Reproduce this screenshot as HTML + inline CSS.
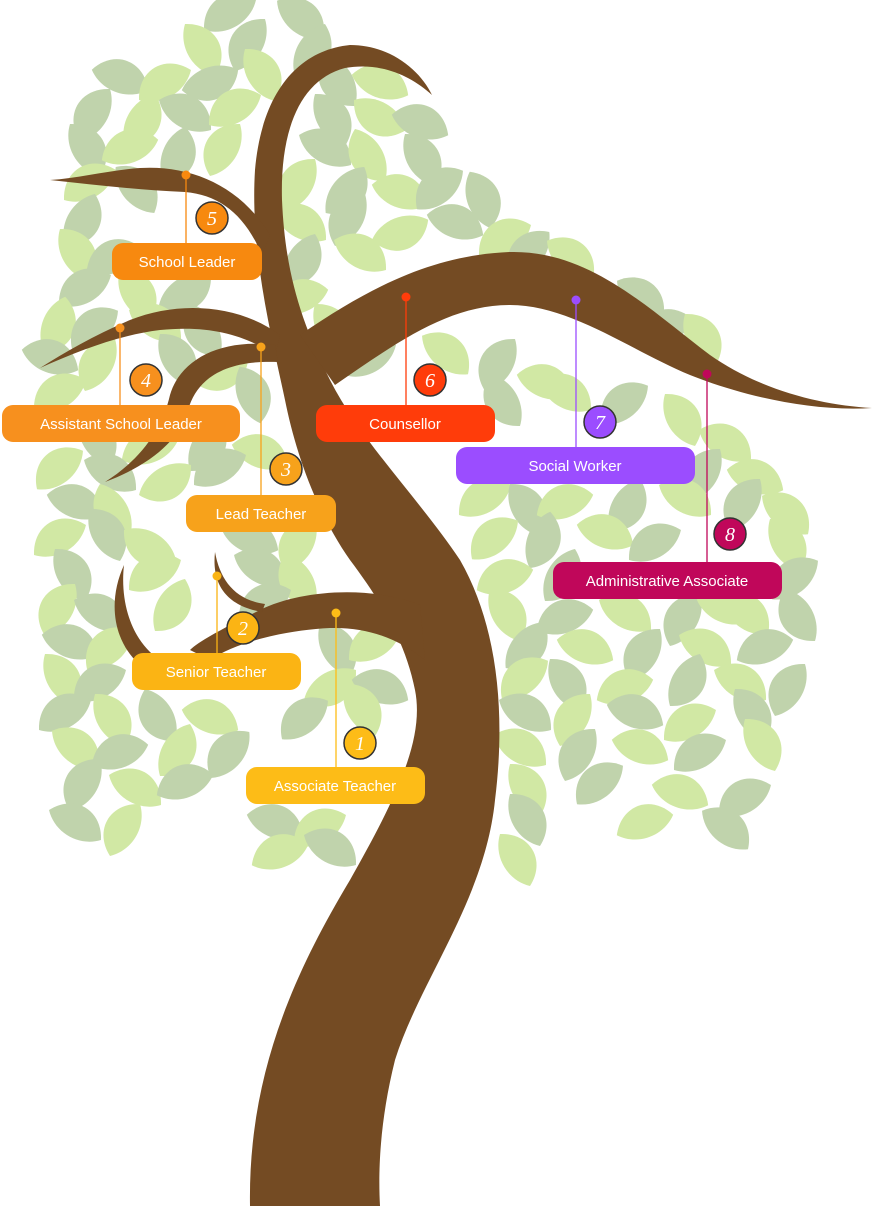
<!DOCTYPE html>
<html><head><meta charset="utf-8"><style>
html,body{margin:0;padding:0;background:#fff}
svg{display:block}
.a{fill:#cfe7a0}.b{fill:#bdd1a8}
.lbl{font-family:"Liberation Sans",sans-serif;font-size:15px;fill:#fff;text-anchor:middle}
.num{font-family:"Liberation Serif",serif;font-style:italic;font-size:20px;fill:#fff;text-anchor:middle}
</style></head><body>
<svg width="872" height="1206" viewBox="0 0 872 1206" xmlns="http://www.w3.org/2000/svg">
<defs><path id="L" d="M-30,0 C-16,-27 16,-27 30,0 C14,17 -14,17 -30,0Z"/></defs>
<g opacity="0.95">
<use href="#L" class="b" transform="translate(230 15) rotate(-30)"/><use href="#L" class="b" transform="translate(300 20) rotate(40)"/>
<use href="#L" class="a" transform="translate(200 50) rotate(60)"/><use href="#L" class="b" transform="translate(250 45) rotate(-60)"/><use href="#L" class="b" transform="translate(310 50) rotate(120)"/>
<use href="#L" class="b" transform="translate(120 80) rotate(20)"/><use href="#L" class="a" transform="translate(165 85) rotate(-30)"/><use href="#L" class="b" transform="translate(210 80) rotate(160)"/><use href="#L" class="a" transform="translate(260 75) rotate(60)"/><use href="#L" class="b" transform="translate(340 80) rotate(-120)"/><use href="#L" class="a" transform="translate(380 85) rotate(20)"/>
<use href="#L" class="b" transform="translate(95 115) rotate(-60)"/><use href="#L" class="a" transform="translate(140 120) rotate(120)"/><use href="#L" class="b" transform="translate(185 115) rotate(30)"/><use href="#L" class="a" transform="translate(235 110) rotate(-30)"/><use href="#L" class="b" transform="translate(330 120) rotate(60)"/><use href="#L" class="a" transform="translate(380 115) rotate(-150)"/><use href="#L" class="b" transform="translate(420 125) rotate(20)"/>
<use href="#L" class="b" transform="translate(85 150) rotate(60)"/><use href="#L" class="a" transform="translate(130 150) rotate(-20)"/><use href="#L" class="b" transform="translate(175 155) rotate(110)"/><use href="#L" class="a" transform="translate(225 150) rotate(-60)"/><use href="#L" class="b" transform="translate(325 150) rotate(30)"/><use href="#L" class="a" transform="translate(370 155) rotate(-120)"/><use href="#L" class="b" transform="translate(420 160) rotate(60)"/>
<use href="#L" class="a" transform="translate(90 185) rotate(-30)"/><use href="#L" class="b" transform="translate(135 190) rotate(50)"/><use href="#L" class="a" transform="translate(300 185) rotate(-60)"/><use href="#L" class="b" transform="translate(345 190) rotate(130)"/><use href="#L" class="a" transform="translate(400 195) rotate(20)"/><use href="#L" class="b" transform="translate(440 190) rotate(-40)"/><use href="#L" class="b" transform="translate(480 200) rotate(70)"/>
<use href="#L" class="b" transform="translate(80 220) rotate(120)"/><use href="#L" class="a" transform="translate(300 225) rotate(30)"/><use href="#L" class="b" transform="translate(350 220) rotate(-60)"/><use href="#L" class="a" transform="translate(400 230) rotate(160)"/><use href="#L" class="b" transform="translate(455 225) rotate(20)"/><use href="#L" class="a" transform="translate(505 240) rotate(-30)"/>
<use href="#L" class="a" transform="translate(75 255) rotate(60)"/><use href="#L" class="b" transform="translate(115 260) rotate(-20)"/><use href="#L" class="b" transform="translate(300 260) rotate(120)"/><use href="#L" class="a" transform="translate(360 255) rotate(30)"/><use href="#L" class="b" transform="translate(530 255) rotate(-50)"/><use href="#L" class="a" transform="translate(570 260) rotate(40)"/>
<use href="#L" class="b" transform="translate(85 290) rotate(-30)"/><use href="#L" class="a" transform="translate(135 295) rotate(60)"/><use href="#L" class="b" transform="translate(185 290) rotate(150)"/><use href="#L" class="a" transform="translate(300 300) rotate(-20)"/><use href="#L" class="b" transform="translate(640 300) rotate(40)"/>
<use href="#L" class="a" transform="translate(55 325) rotate(110)"/><use href="#L" class="b" transform="translate(95 330) rotate(-40)"/><use href="#L" class="a" transform="translate(155 325) rotate(30)"/><use href="#L" class="b" transform="translate(205 330) rotate(-120)"/><use href="#L" class="a" transform="translate(330 330) rotate(60)"/><use href="#L" class="b" transform="translate(665 330) rotate(-20)"/><use href="#L" class="a" transform="translate(700 340) rotate(60)"/>
<use href="#L" class="b" transform="translate(50 360) rotate(20)"/><use href="#L" class="a" transform="translate(100 365) rotate(-60)"/><use href="#L" class="b" transform="translate(175 360) rotate(60)"/><use href="#L" class="a" transform="translate(220 370) rotate(160)"/><use href="#L" class="b" transform="translate(370 360) rotate(-30)"/><use href="#L" class="a" transform="translate(445 355) rotate(40)"/><use href="#L" class="b" transform="translate(500 365) rotate(-60)"/><use href="#L" class="a" transform="translate(545 385) rotate(20)"/>
<use href="#L" class="a" transform="translate(60 395) rotate(-30)"/><use href="#L" class="b" transform="translate(250 395) rotate(70)"/><use href="#L" class="b" transform="translate(505 400) rotate(-120)"/><use href="#L" class="a" transform="translate(565 395) rotate(30)"/><use href="#L" class="b" transform="translate(625 405) rotate(-40)"/><use href="#L" class="a" transform="translate(680 420) rotate(60)"/>
<use href="#L" class="b" transform="translate(95 440) rotate(60)"/><use href="#L" class="a" transform="translate(150 450) rotate(-20)"/><use href="#L" class="b" transform="translate(205 445) rotate(120)"/><use href="#L" class="a" transform="translate(260 455) rotate(20)"/><use href="#L" class="b" transform="translate(330 455) rotate(-60)"/><use href="#L" class="a" transform="translate(725 445) rotate(30)"/>
<use href="#L" class="a" transform="translate(60 470) rotate(-40)"/><use href="#L" class="b" transform="translate(110 475) rotate(30)"/><use href="#L" class="a" transform="translate(165 480) rotate(150)"/><use href="#L" class="b" transform="translate(220 470) rotate(-30)"/><use href="#L" class="a" transform="translate(345 480) rotate(60)"/><use href="#L" class="b" transform="translate(705 475) rotate(-60)"/><use href="#L" class="a" transform="translate(755 480) rotate(20)"/>
<use href="#L" class="b" transform="translate(75 505) rotate(20)"/><use href="#L" class="a" transform="translate(115 510) rotate(-120)"/><use href="#L" class="b" transform="translate(355 505) rotate(40)"/><use href="#L" class="a" transform="translate(485 500) rotate(-30)"/><use href="#L" class="b" transform="translate(525 510) rotate(60)"/><use href="#L" class="a" transform="translate(565 505) rotate(-20)"/><use href="#L" class="b" transform="translate(625 505) rotate(120)"/><use href="#L" class="a" transform="translate(685 500) rotate(30)"/><use href="#L" class="b" transform="translate(745 505) rotate(-60)"/><use href="#L" class="a" transform="translate(785 515) rotate(40)"/>
<use href="#L" class="a" transform="translate(60 540) rotate(-30)"/><use href="#L" class="b" transform="translate(105 535) rotate(60)"/><use href="#L" class="a" transform="translate(150 545) rotate(-150)"/><use href="#L" class="b" transform="translate(250 540) rotate(20)"/><use href="#L" class="a" transform="translate(300 545) rotate(-60)"/><use href="#L" class="b" transform="translate(360 535) rotate(30)"/><use href="#L" class="a" transform="translate(495 540) rotate(-40)"/><use href="#L" class="b" transform="translate(540 540) rotate(110)"/><use href="#L" class="a" transform="translate(605 535) rotate(20)"/><use href="#L" class="b" transform="translate(655 545) rotate(-30)"/><use href="#L" class="a" transform="translate(785 545) rotate(60)"/>
<use href="#L" class="b" transform="translate(70 575) rotate(60)"/><use href="#L" class="a" transform="translate(155 575) rotate(-30)"/><use href="#L" class="b" transform="translate(260 570) rotate(30)"/><use href="#L" class="a" transform="translate(300 580) rotate(-120)"/><use href="#L" class="b" transform="translate(385 575) rotate(40)"/><use href="#L" class="a" transform="translate(505 580) rotate(-20)"/><use href="#L" class="b" transform="translate(560 575) rotate(120)"/><use href="#L" class="a" transform="translate(625 615) rotate(30)"/><use href="#L" class="b" transform="translate(685 620) rotate(-60)"/><use href="#L" class="a" transform="translate(725 610) rotate(20)"/><use href="#L" class="b" transform="translate(795 580) rotate(-40)"/>
<use href="#L" class="a" transform="translate(60 610) rotate(-60)"/><use href="#L" class="b" transform="translate(100 615) rotate(30)"/><use href="#L" class="a" transform="translate(170 605) rotate(120)"/><use href="#L" class="b" transform="translate(265 605) rotate(-30)"/><use href="#L" class="a" transform="translate(505 615) rotate(60)"/><use href="#L" class="b" transform="translate(565 620) rotate(-20)"/><use href="#L" class="a" transform="translate(745 615) rotate(40)"/><use href="#L" class="b" transform="translate(800 615) rotate(-120)"/>
<use href="#L" class="b" transform="translate(70 645) rotate(20)"/><use href="#L" class="a" transform="translate(110 650) rotate(-40)"/><use href="#L" class="b" transform="translate(335 650) rotate(60)"/><use href="#L" class="a" transform="translate(375 645) rotate(-30)"/><use href="#L" class="b" transform="translate(525 645) rotate(130)"/><use href="#L" class="a" transform="translate(585 650) rotate(20)"/><use href="#L" class="b" transform="translate(645 655) rotate(-60)"/><use href="#L" class="a" transform="translate(705 650) rotate(30)"/><use href="#L" class="b" transform="translate(765 650) rotate(-20)"/>
<use href="#L" class="a" transform="translate(60 680) rotate(60)"/><use href="#L" class="b" transform="translate(100 685) rotate(-30)"/><use href="#L" class="a" transform="translate(330 685) rotate(150)"/><use href="#L" class="b" transform="translate(380 690) rotate(20)"/><use href="#L" class="a" transform="translate(525 680) rotate(-40)"/><use href="#L" class="b" transform="translate(565 685) rotate(60)"/><use href="#L" class="a" transform="translate(625 690) rotate(-20)"/><use href="#L" class="b" transform="translate(685 680) rotate(120)"/><use href="#L" class="a" transform="translate(740 685) rotate(30)"/><use href="#L" class="b" transform="translate(790 690) rotate(-60)"/>
<use href="#L" class="b" transform="translate(65 715) rotate(-30)"/><use href="#L" class="a" transform="translate(110 720) rotate(60)"/><use href="#L" class="b" transform="translate(160 715) rotate(-120)"/><use href="#L" class="a" transform="translate(210 720) rotate(20)"/><use href="#L" class="b" transform="translate(305 720) rotate(-40)"/><use href="#L" class="a" transform="translate(360 710) rotate(60)"/><use href="#L" class="b" transform="translate(525 715) rotate(30)"/><use href="#L" class="a" transform="translate(575 720) rotate(-60)"/><use href="#L" class="b" transform="translate(635 715) rotate(20)"/><use href="#L" class="a" transform="translate(690 725) rotate(-30)"/><use href="#L" class="b" transform="translate(750 715) rotate(60)"/>
<use href="#L" class="a" transform="translate(75 750) rotate(40)"/><use href="#L" class="b" transform="translate(120 755) rotate(-20)"/><use href="#L" class="a" transform="translate(175 750) rotate(120)"/><use href="#L" class="b" transform="translate(230 755) rotate(-50)"/><use href="#L" class="a" transform="translate(520 750) rotate(30)"/><use href="#L" class="b" transform="translate(580 755) rotate(-60)"/><use href="#L" class="a" transform="translate(640 750) rotate(20)"/><use href="#L" class="b" transform="translate(700 755) rotate(-30)"/><use href="#L" class="a" transform="translate(760 745) rotate(60)"/>
<use href="#L" class="b" transform="translate(85 785) rotate(-60)"/><use href="#L" class="a" transform="translate(135 790) rotate(30)"/><use href="#L" class="b" transform="translate(185 785) rotate(-20)"/><use href="#L" class="a" transform="translate(525 790) rotate(60)"/><use href="#L" class="b" transform="translate(600 785) rotate(-40)"/><use href="#L" class="a" transform="translate(680 795) rotate(20)"/><use href="#L" class="b" transform="translate(745 800) rotate(-30)"/>
<use href="#L" class="b" transform="translate(75 825) rotate(30)"/><use href="#L" class="a" transform="translate(125 830) rotate(-60)"/><use href="#L" class="b" transform="translate(275 825) rotate(20)"/><use href="#L" class="a" transform="translate(320 830) rotate(-30)"/><use href="#L" class="b" transform="translate(525 820) rotate(60)"/><use href="#L" class="a" transform="translate(645 825) rotate(-20)"/><use href="#L" class="b" transform="translate(725 830) rotate(40)"/>
<use href="#L" class="a" transform="translate(280 855) rotate(-20)"/><use href="#L" class="b" transform="translate(330 850) rotate(30)"/><use href="#L" class="a" transform="translate(515 860) rotate(60)"/>
</g>
<g fill="#744b23">
<path d="M250,1206 C248,1080 290,980 350,880 C395,800 425,740 415,690 C405,640 380,600 350,560 C315,510 295,450 285,400 C270,330 250,250 255,170 C262,90 300,50 350,45 C390,45 420,70 432,95 C410,75 380,62 345,68 C300,80 280,130 282,200 C285,270 300,320 330,380 C360,440 420,500 460,560 C500,630 505,720 495,800 C485,900 420,980 395,1060 C380,1120 378,1170 380,1206 Z"/>
<path d="M300,335 C380,280 440,255 510,252 C590,250 650,310 710,355 C760,390 820,405 872,408 C810,412 740,395 690,375 C630,350 570,305 510,305 C450,305 400,340 335,385 Z"/>
<path d="M270,235 C240,185 190,165 140,168 C110,170 80,178 50,180 C95,185 140,190 185,192 C220,195 245,215 262,255 Z"/>
<path d="M280,335 C240,305 180,300 130,320 C95,335 65,352 40,368 C80,350 120,335 160,330 C210,325 245,335 275,355 Z"/>
<path d="M275,345 C220,338 180,360 170,395 C162,430 140,460 105,482 C150,465 180,440 188,410 C198,375 230,360 278,362 Z"/>
<path d="M420,605 C370,585 300,590 260,610 C230,625 200,640 190,650 L210,660 C240,640 290,630 330,628 C370,627 400,640 425,660 Z"/>
<path d="M124,565 C108,600 112,640 140,665 L160,660 C130,640 120,600 124,565 Z"/>
<path d="M215,552 C212,580 222,605 262,612 L265,604 C235,600 220,580 215,552 Z"/>
</g>
<g stroke-width="1.3">
<line x1="186" y1="175" x2="186" y2="245" stroke="#f7890f"/><circle cx="186" cy="175" r="4.5" fill="#f7890f"/>
<line x1="120" y1="328" x2="120" y2="407" stroke="#f7901e"/><circle cx="120" cy="328" r="4.5" fill="#f7901e"/>
<line x1="261" y1="347" x2="261" y2="497" stroke="#f7a21b"/><circle cx="261" cy="347" r="4.5" fill="#f7a21b"/>
<line x1="406" y1="297" x2="406" y2="407" stroke="#ff3c0a"/><circle cx="406" cy="297" r="4.5" fill="#ff3c0a"/>
<line x1="576" y1="300" x2="576" y2="449" stroke="#9b4dff"/><circle cx="576" cy="300" r="4.5" fill="#9b4dff"/>
<line x1="707" y1="374" x2="707" y2="564" stroke="#c0075a"/><circle cx="707" cy="374" r="4.5" fill="#c0075a"/>
<line x1="217" y1="576" x2="217" y2="655" stroke="#fbb414"/><circle cx="217" cy="576" r="4.5" fill="#fbb414"/>
<line x1="336" y1="613" x2="336" y2="769" stroke="#fdbc17"/><circle cx="336" cy="613" r="4.5" fill="#fdbc17"/>
</g>
<rect x="112" y="243" width="150" height="37" rx="11" fill="#f7890f"/><text class="lbl" x="187" y="267">School Leader</text>
<rect x="2" y="405" width="238" height="37" rx="11" fill="#f7901e"/><text class="lbl" x="121" y="429">Assistant School Leader</text>
<rect x="186" y="495" width="150" height="37" rx="11" fill="#f7a21b"/><text class="lbl" x="261" y="519">Lead Teacher</text>
<rect x="316" y="405" width="179" height="37" rx="11" fill="#ff3c0a"/><text class="lbl" x="405" y="429">Counsellor</text>
<rect x="456" y="447" width="239" height="37" rx="11" fill="#9b4dff"/><text class="lbl" x="575" y="471">Social Worker</text>
<rect x="553" y="562" width="229" height="37" rx="11" fill="#c0075a"/><text class="lbl" x="667" y="586">Administrative Associate</text>
<rect x="132" y="653" width="169" height="37" rx="11" fill="#fbb414"/><text class="lbl" x="216" y="677">Senior Teacher</text>
<rect x="246" y="767" width="179" height="37" rx="11" fill="#fdbc17"/><text class="lbl" x="335" y="791">Associate Teacher</text>
<g stroke="#333" stroke-width="1.5">
<circle cx="212" cy="218" r="16" fill="#f7890f"/><circle cx="146" cy="380" r="16" fill="#f7901e"/>
<circle cx="286" cy="469" r="16" fill="#f7a21b"/><circle cx="430" cy="380" r="16" fill="#ff3c0a"/>
<circle cx="600" cy="422" r="16" fill="#9b4dff"/><circle cx="730" cy="534" r="16" fill="#c0075a"/>
<circle cx="243" cy="628" r="16" fill="#fbb414"/><circle cx="360" cy="743" r="16" fill="#fdbc17"/>
</g>
<text class="num" x="212" y="225">5</text><text class="num" x="146" y="387">4</text>
<text class="num" x="286" y="476">3</text><text class="num" x="430" y="387">6</text>
<text class="num" x="600" y="429">7</text><text class="num" x="730" y="541">8</text>
<text class="num" x="243" y="635">2</text><text class="num" x="360" y="750">1</text>
</svg>
</body></html>
